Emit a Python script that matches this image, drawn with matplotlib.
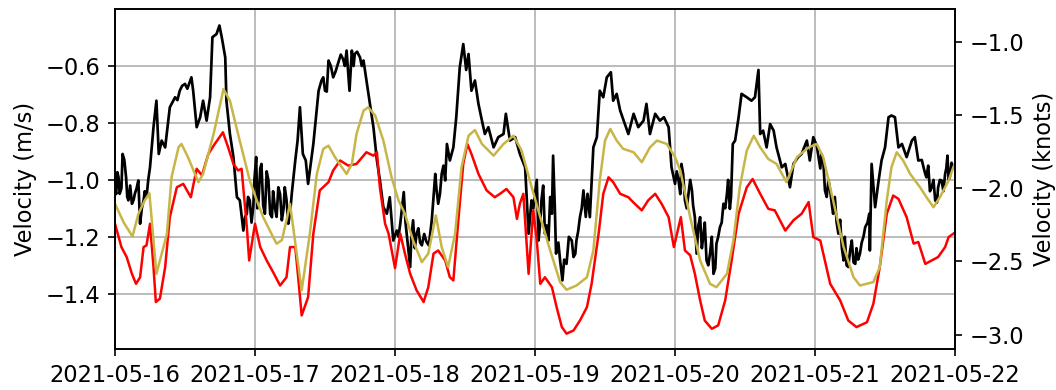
import numpy as np
import pandas as pd
import matplotlib
matplotlib.use("Agg")
import matplotlib.pyplot as plt
import matplotlib.dates as mdates

plt.rcParams["font.size"] = 10.8

MS_TO_KNOTS = 1.94384
start = pd.Timestamp("2021-05-16")

# observed velocity (m/s) as (hours after start, value)
obs_points = [
    (0, -1.026), (0.2, -1.05), (0.4, -0.973), (0.6, -0.99), (0.8, -1.049), (1.1, -1.03),
    (1.3, -0.909), (1.6, -0.93), (1.9, -0.991), (2.1, -1.06), (2.3, -1.072), (2.6, -1.02),
    (2.9, -1.084), (3.2, -1.07), (3.4, -1.049), (3.7, -1.03), (4.0, -1.002), (4.3, -1.154),
    (4.6, -1.10), (4.9, -1.072), (5.1, -1.04), (5.4, -1.061), (5.7, -1.00), (6.0, -0.956),
    (6.6, -0.815), (7.1, -0.722), (7.5, -0.909), (8.0, -0.862), (8.6, -0.886), (9.4, -0.745),
    (10.3, -0.710), (10.7, -0.72), (11.1, -0.687), (11.5, -0.67), (12.0, -0.663),
    (12.4, -0.68), (12.9, -0.651), (13.1, -0.64), (13.4, -0.687), (14.0, -0.815),
    (14.6, -0.780), (15.1, -0.722), (15.7, -0.792), (16.3, -0.710), (16.7, -0.499),
    (17.4, -0.488), (17.9, -0.458), (18.3, -0.499), (18.9, -0.570), (19.1, -0.722),
    (19.7, -0.839), (20.3, -0.920), (20.9, -1.061), (21.4, -1.072), (22.0, -1.178),
    (22.3, -1.13), (22.6, -1.119), (22.8, -1.06), (23.1, -1.072), (23.4, -1.15),
    (23.7, -1.096), (23.9, -1.00), (24.2, -0.920), (24.4, -1.10), (24.6, -1.072),
    (24.9, -0.96), (25.1, -0.944), (25.4, -1.09), (25.7, -1.119), (26.0, -0.97),
    (26.3, -1.002), (26.6, -1.12), (26.9, -1.131), (27.1, -1.04), (27.4, -1.096),
    (27.7, -1.13), (28.0, -1.026), (28.3, -1.05), (28.6, -1.142), (28.9, -1.10),
    (29.1, -1.026), (29.4, -1.07), (29.7, -1.154), (30.0, -1.12), (30.3, -1.049),
    (30.9, -0.932), (31.3, -0.862), (31.7, -0.745), (32.2, -0.909), (32.7, -0.932),
    (33.1, -1.014), (34.0, -0.874), (34.9, -0.687), (35.4, -0.651), (35.7, -0.64),
    (36.0, -0.687), (36.3, -0.69), (36.6, -0.581), (37.0, -0.60), (37.4, -0.640),
    (37.8, -0.62), (38.3, -0.587), (38.7, -0.56), (39.1, -0.576), (39.4, -0.60),
    (39.7, -0.546), (40.2, -0.687), (40.6, -0.546), (40.9, -0.60), (41.1, -0.558),
    (41.5, -0.55), (42.0, -0.570), (42.3, -0.60), (42.6, -0.581), (43.1, -0.651),
    (43.7, -0.733), (44.3, -0.815), (44.9, -0.932), (45.4, -1.000), (46.0, -1.096),
    (46.6, -1.119), (47.1, -1.061), (47.7, -1.213), (48.3, -1.178), (48.6, -1.20),
    (48.9, -1.154), (49.2, -1.10), (49.5, -1.043), (49.8, -1.15), (50.0, -1.189),
    (50.3, -1.25), (50.6, -1.306), (50.8, -1.20), (51.1, -1.142), (51.4, -1.24),
    (51.7, -1.189), (52.0, -1.17), (52.3, -1.22), (52.6, -1.230), (53.0, -1.19),
    (53.4, -1.218), (53.8, -1.23), (54.3, -1.142), (54.6, -1.06), (54.9, -0.979),
    (55.1, -1.03), (55.4, -1.084), (55.7, -1.05), (56.0, -0.979), (56.3, -0.95),
    (56.6, -1.002), (56.9, -0.874), (57.4, -0.932), (58.0, -0.886), (58.5, -0.780),
    (59.1, -0.605), (59.7, -0.523), (60.2, -0.614), (60.6, -0.558), (61.1, -0.687),
    (61.7, -0.651), (62.3, -0.733), (62.9, -0.792), (63.4, -0.839), (64.0, -0.815),
    (64.9, -0.886), (65.7, -0.850), (66.6, -0.839), (67.0, -0.768), (67.7, -0.862),
    (68.6, -0.850), (69.4, -0.909), (70.3, -0.956), (70.9, -1.189), (71.4, -1.072),
    (71.7, -1.10), (72.0, -1.049), (72.3, -1.00), (72.6, -1.213), (72.9, -1.15),
    (73.1, -1.072), (73.4, -1.02), (73.7, -1.189), (74.0, -1.16), (74.3, -1.213),
    (74.6, -1.06), (74.9, -1.119), (75.1, -0.915), (75.4, -1.10), (75.6, -1.259),
    (76.0, -1.22), (76.3, -1.283), (76.7, -1.353), (77.0, -1.28), (77.4, -1.295),
    (77.8, -1.20), (78.3, -1.213), (78.6, -1.271), (78.9, -1.26), (79.1, -1.213),
    (79.4, -1.18), (79.7, -1.131), (80.0, -1.10), (80.3, -1.037), (80.7, -1.13),
    (81.0, -1.049), (81.4, -1.131), (82.0, -0.886), (82.6, -0.850), (83.1, -0.687),
    (83.7, -0.710), (84.3, -0.640), (85.0, -0.622), (85.4, -0.722), (86.0, -0.698),
    (86.6, -0.757), (87.4, -0.804), (88.0, -0.839), (88.9, -0.768), (89.7, -0.815),
    (90.6, -0.792), (91.1, -0.733), (91.7, -0.839), (92.6, -0.768), (93.4, -0.792),
    (94.1, -0.780), (94.9, -0.815), (95.4, -0.956), (96.0, -1.014), (96.3, -0.97),
    (96.6, -1.002), (96.9, -1.05), (97.1, -0.944), (97.4, -0.98), (97.7, -1.072),
    (98.0, -1.10), (98.3, -1.049), (98.6, -1.00), (98.9, -1.037), (99.1, -1.09),
    (99.4, -1.131), (99.7, -1.259), (100.0, -1.16), (100.3, -1.131), (100.6, -1.24),
    (100.9, -1.189), (101.1, -1.15), (101.4, -1.283), (101.7, -1.30), (102.0, -1.259),
    (102.3, -1.20), (102.6, -1.330), (102.9, -1.31), (103.1, -1.224), (103.4, -1.20),
    (103.7, -1.166), (104.0, -1.15), (104.3, -1.084), (104.6, -1.10), (104.9, -1.049),
    (105.1, -1.00), (105.4, -1.102), (105.6, -1.06), (105.9, -0.874), (106.3, -0.862),
    (106.9, -0.780), (107.4, -0.698), (108.3, -0.710), (109.1, -0.722), (109.7, -0.710),
    (110.3, -0.614), (110.6, -0.839), (111.1, -0.827), (111.7, -0.886), (112.3, -0.804),
    (112.9, -0.827), (113.4, -0.886), (114.3, -0.956), (114.9, -0.944), (115.7, -1.026),
    (116.3, -0.944), (117.1, -0.920), (117.7, -0.909), (118.6, -0.862), (119.1, -0.932),
    (119.7, -0.850), (120.3, -0.88), (120.6, -0.920), (120.9, -0.96), (121.1, -0.909),
    (121.4, -0.93), (121.7, -1.037), (122.0, -1.06), (122.3, -1.00), (122.6, -1.037),
    (122.9, -1.09), (123.1, -1.119), (123.4, -1.06), (123.7, -1.15), (124.0, -1.189),
    (124.3, -1.14), (124.6, -1.24), (124.9, -1.283), (125.1, -1.20), (125.4, -1.30),
    (125.7, -1.306), (126.0, -1.25), (126.3, -1.213), (126.6, -1.29), (126.9, -1.295),
    (127.1, -1.24), (127.4, -1.28), (127.7, -1.259), (128.0, -1.22), (128.3, -1.20),
    (128.6, -1.166), (129.0, -1.15), (129.3, -1.119), (129.4, -1.248), (129.7, -0.944),
    (130.3, -1.096), (130.9, -1.002), (131.4, -0.932), (132.0, -0.886), (132.6, -0.780),
    (133.1, -0.774), (133.7, -0.780), (134.3, -0.886), (134.9, -0.874), (135.7, -0.920),
    (136.6, -0.862), (137.1, -0.850), (137.7, -0.932), (138.3, -0.93), (138.6, -0.956),
    (138.9, -0.98), (139.1, -0.991), (139.4, -0.95), (139.7, -1.04), (140.0, -1.026),
    (140.3, -1.00), (140.6, -1.072), (140.9, -1.08), (141.1, -1.026), (141.4, -1.00),
    (141.7, -1.002), (142.0, -1.04), (142.3, -0.979), (142.5, -0.96), (142.7, -0.915),
    (142.9, -1.00), (143.1, -0.991), (143.4, -0.94), (143.7, -0.956), (144.0, -0.960),
]

# model velocity (m/s), first run
mod_a_hours = [0, 1.1, 2.0, 2.9, 3.6, 4.3, 4.9, 5.4, 6.0, 6.6, 7.0, 7.7, 8.6, 9.4, 10.6, 11.7,
               13.0, 14.0, 14.9, 16.0, 17.1, 18.5, 19.4, 20.3, 21.1, 21.7, 22.6, 23.0, 24.0,
               24.9, 26.0, 27.1, 28.3, 29.4, 30.0, 30.9, 31.4, 32.0, 33.1, 34.0, 35.1, 36.6,
               37.4, 38.6, 40.0, 41.4, 43.1, 44.3, 44.9, 45.4, 46.3, 46.9, 48.0, 48.9, 49.7,
               50.6, 51.7, 52.9, 53.7, 54.6, 55.4, 56.6, 57.4, 58.0, 58.9, 59.7, 60.4, 61.1,
               62.3, 63.7, 65.1, 66.0, 67.1, 68.3, 68.9, 69.4, 70.0, 70.9, 71.7, 72.3, 72.9,
               73.7, 74.9, 75.7, 76.6, 77.4, 78.6, 79.7, 80.9, 81.7, 82.9, 83.7, 84.6, 85.4,
               86.6, 88.0, 89.1, 90.3, 91.4, 92.6, 93.7, 94.9, 95.8, 96.6, 97.0, 97.7, 98.6,
               99.4, 100.3, 101.1, 102.3, 103.4, 104.6, 105.7, 106.9, 108.3, 109.3, 110.6,
               112.0, 113.1, 114.9, 116.3, 117.7, 118.9, 119.7, 120.9, 122.6, 124.3, 125.7,
               127.1, 128.9, 130.0, 131.1, 132.3, 133.4, 134.3, 135.7, 136.9, 137.7, 138.9,
               140.0, 141.1, 142.3, 142.9, 143.7, 144.0]
mod_a_vel = [-1.154, -1.236, -1.271, -1.330, -1.365, -1.342, -1.236, -1.230, -1.154, -1.306,
             -1.429, -1.417, -1.306, -1.131, -1.026, -1.014, -1.061, -0.961, -0.984, -0.909,
             -0.874, -0.833, -0.886, -0.944, -0.967, -0.961, -1.166, -1.283, -1.154, -1.236,
             -1.283, -1.324, -1.371, -1.342, -1.236, -1.236, -1.342, -1.476, -1.412, -1.189,
             -1.037, -1.008, -0.967, -0.932, -0.950, -0.944, -0.903, -0.915, -0.903, -1.026,
             -1.154, -1.189, -1.310, -1.189, -1.259, -1.330, -1.388, -1.429, -1.377, -1.259,
             -1.248, -1.283, -1.342, -1.353, -1.131, -0.944, -0.874, -0.909, -0.979, -1.037,
             -1.061, -1.049, -1.032, -1.061, -1.137, -1.084, -1.049, -1.330, -1.107, -1.213,
             -1.365, -1.342, -1.377, -1.447, -1.517, -1.540, -1.529, -1.494, -1.447, -1.365,
             -1.189, -1.049, -0.991, -1.008, -1.049, -1.061, -1.084, -1.107, -1.072, -1.049,
             -1.084, -1.131, -1.236, -1.166, -1.131, -1.248, -1.265, -1.330, -1.423, -1.494,
             -1.523, -1.511, -1.423, -1.283, -1.119, -1.026, -0.997, -1.049, -1.102, -1.107,
             -1.178, -1.142, -1.119, -1.078, -1.201, -1.213, -1.365, -1.423, -1.494, -1.517,
             -1.500, -1.435, -1.306, -1.119, -1.055, -1.067, -1.131, -1.224, -1.218, -1.295,
             -1.283, -1.271, -1.236, -1.201, -1.189, -1.185]

# model velocity (m/s), second run
mod_b_hours = [0, 1.5, 3.0, 4.0, 5.1, 5.9, 7.1, 8.9, 9.7, 10.9, 11.4, 12.5, 14.3, 15.1, 16.9,
               18.6, 19.7, 21.1, 23.1, 24.3, 25.4, 27.1, 27.7, 28.6, 29.4, 30.0, 32.0, 33.4,
               34.6, 35.7, 36.6, 37.7, 38.9, 39.7, 40.6, 41.4, 42.6, 43.4, 44.6, 46.0, 47.4,
               48.6, 49.7, 51.1, 52.6, 53.7, 55.0, 56.0, 57.1, 58.3, 59.4, 60.6, 61.7, 62.9,
               64.9, 66.6, 68.3, 69.7, 71.1, 72.9, 74.6, 76.3, 77.4, 79.1, 80.9, 82.0, 83.1,
               84.0, 84.9, 86.0, 87.1, 88.9, 90.3, 91.7, 92.9, 94.6, 96.0, 96.9, 98.6, 100.3,
               102.0, 103.1, 104.9, 106.0, 107.1, 108.3, 109.5, 110.6, 112.0, 113.4, 115.1,
               116.9, 118.9, 120.3, 121.4, 123.1, 124.9, 126.6, 127.7, 130.0, 131.1, 132.3,
               133.1, 134.0, 135.1, 136.3, 138.0, 139.1, 140.3, 141.4, 142.9, 143.7, 144.0]
mod_b_vel = [-1.084, -1.150, -1.199, -1.120, -1.072, -1.047, -1.330, -1.190, -0.990, -0.885,
             -0.874, -0.920, -1.008, -0.979, -0.839, -0.681, -0.722, -0.839, -1.002, -1.072,
             -1.131, -1.201, -1.224, -1.212, -1.142, -1.084, -1.388, -1.189, -0.979, -0.891,
             -0.880, -0.920, -0.956, -0.979, -0.944, -0.839, -0.757, -0.745, -0.774, -0.862,
             -0.990, -1.072, -1.119, -1.213, -1.289, -1.259, -1.125, -1.236, -1.306, -1.189,
             -0.956, -0.845, -0.825, -0.874, -0.915, -0.874, -0.845, -0.897, -1.002, -1.131,
             -1.248, -1.359, -1.386, -1.371, -1.342, -1.248, -1.002, -0.862, -0.821, -0.862,
             -0.891, -0.903, -0.938, -0.886, -0.862, -0.874, -0.920, -0.967, -1.131, -1.283,
             -1.365, -1.377, -1.330, -1.213, -1.026, -0.897, -0.845, -0.886, -0.927, -0.944,
             -1.008, -0.920, -0.886, -0.874, -0.920, -1.072, -1.236, -1.342, -1.371, -1.359,
             -1.306, -1.072, -0.956, -0.903, -0.932, -0.979, -1.026, -1.061, -1.096, -1.061,
             -1.002, -0.956, -0.945]

obs_hours, obs_vel = zip(*sorted(obs_points))
obs_t = start + pd.to_timedelta(list(obs_hours), unit="h")
mod_a_t = start + pd.to_timedelta(mod_a_hours, unit="h")
mod_b_t = start + pd.to_timedelta(mod_b_hours, unit="h")

fig = plt.figure(figsize=(7.04, 2.6), dpi=150)
ax = fig.add_axes([0.1089, 0.1051, 0.7955, 0.8718])

ax.plot(obs_t, obs_vel, color="k", lw=1.3)
ax.plot(mod_a_t, mod_a_vel, color="r", lw=1.2)
ax.plot(mod_b_t, mod_b_vel, color="#c8b548", lw=1.2)

ax.set_xlim(start, start + pd.Timedelta(days=6))
ylim = (-1.594, -0.400)
ax.set_ylim(ylim)
ax.set_yticks([-1.4, -1.2, -1.0, -0.8, -0.6])
ax.set_ylabel("Velocity (m/s)")
ax.xaxis.set_major_locator(mdates.DayLocator())
ax.xaxis.set_major_formatter(mdates.DateFormatter("%Y-%m-%d"))
ax.grid(True)

# same data in knots on the right-hand axis
ax2 = ax.twinx()
ax2.set_ylim(ylim[0] * MS_TO_KNOTS, ylim[1] * MS_TO_KNOTS)
ax2.set_yticks([-3.0, -2.5, -2.0, -1.5, -1.0])
ax2.set_ylabel("Velocity (knots)")

fig.savefig("out.png", dpi=150)
